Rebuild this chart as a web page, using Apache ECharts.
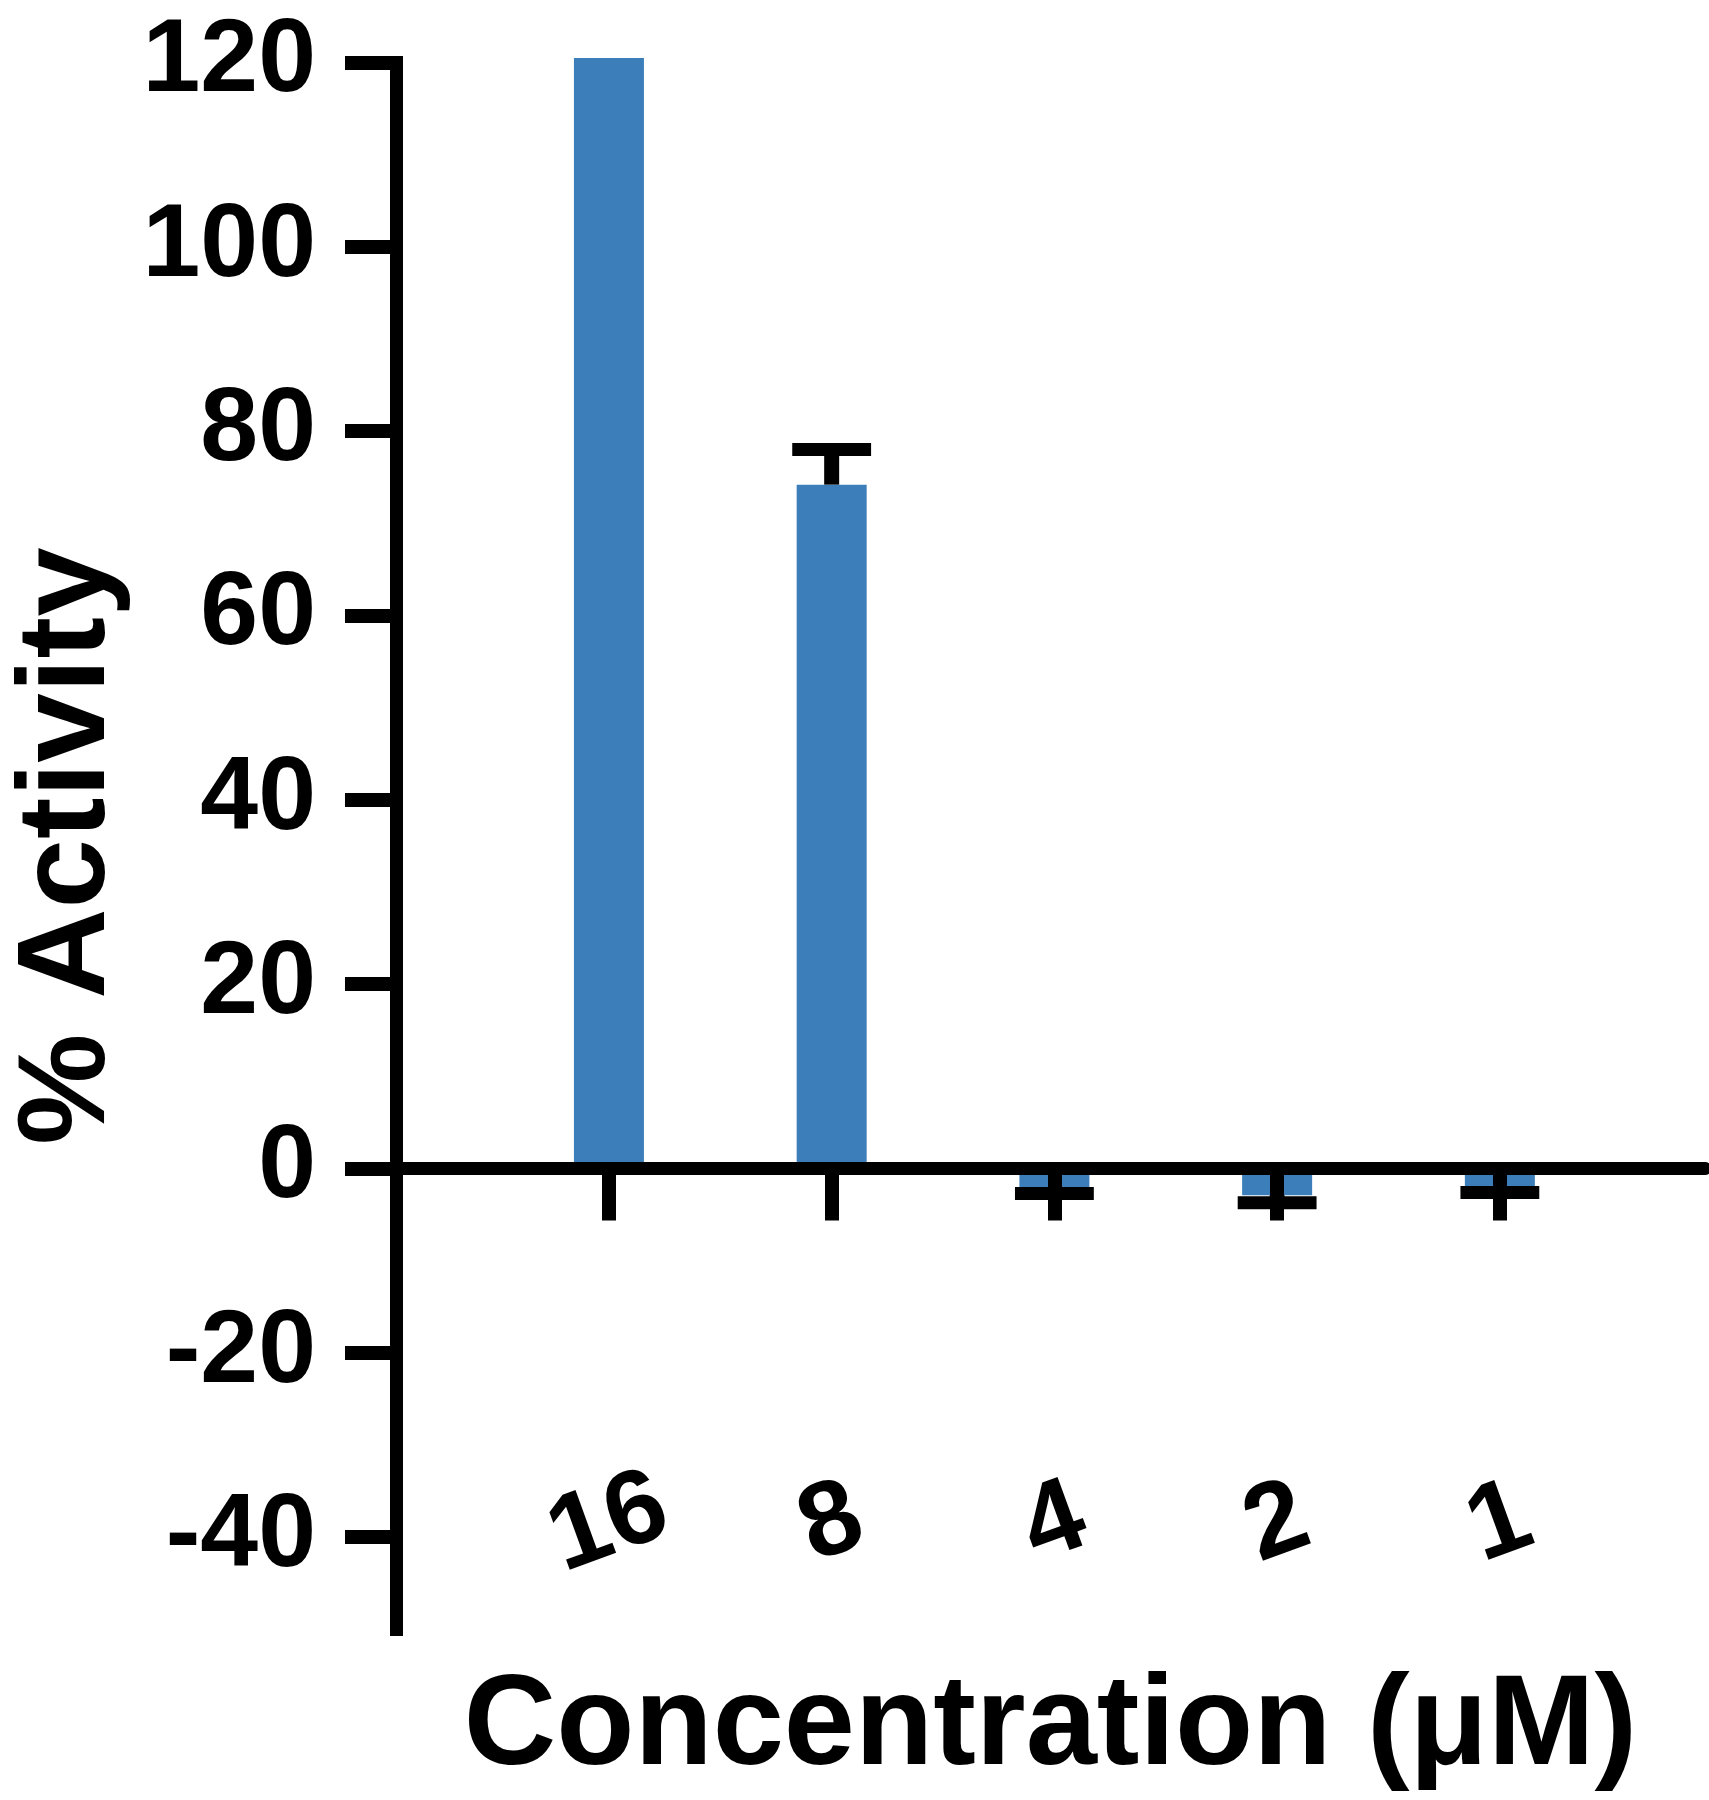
<!DOCTYPE html>
<html>
<head>
<meta charset="utf-8">
<script src="https://cdn.jsdelivr.net/npm/echarts@6/dist/echarts.min.js"></script>
<style>
html,body{margin:0;padding:0;background:#fff;}
#chart{width:1709px;height:1800px;}
</style>
</head>
<body>
<div id="chart"></div>
<script>
// Data
const categories = ['16', '8', '4', '2', '1'];
const activity = [120.5, 74.2, -2.1, -2.9, -2.1];
const errorEnd = [null, 78.0, -2.7, -3.7, -2.6];
const yTicks = [-40, -20, 0, 20, 40, 60, 80, 100, 120];
const xPositions = categories.map((c, i) => i);

const FONT = 'Liberation Sans, Arial, sans-serif';
const BLUE = '#3B7EBA';

const barData = categories.map((c, i) => [xPositions[i], activity[i]]);
const errData = [];
categories.forEach((c, i) => {
  if (errorEnd[i] !== null) errData.push([xPositions[i], activity[i], errorEnd[i]]);
});

const chart = echarts.init(document.getElementById('chart'), null, {renderer: 'canvas'});
chart.setOption({
  animation: false,
  backgroundColor: '#fff',
  grid: {left: 396, right: 4, top: 62.5, bottom: 170.6, containLabel: false, outerBoundsMode: 'none'},
  xAxis: {
    type: 'value',
    min: -0.956,
    max: 4.921,
    z: 10,
    axisLine: {show: true, onZero: true, lineStyle: {color: '#000', width: 13}},
    axisTick: {show: true, customValues: xPositions, length: 52, lineStyle: {color: '#000', width: 14}},
    axisLabel: {
      show: true,
      customValues: xPositions,
      formatter: v => categories[Math.round(v)],
      rotate: 20,
      align: 'center',
      verticalAlign: 'middle',
      margin: -105,
      fontSize: 106,
      fontWeight: 'bold',
      fontFamily: FONT,
      color: '#000'
    },
    splitLine: {show: false},
    name: 'Concentration (μM)',
    nameLocation: 'middle',
    nameGap: 35,
    nameTextStyle: {fontSize: 128, fontWeight: 'bold', fontFamily: FONT, color: '#000'}
  },
  yAxis: {
    type: 'value',
    min: -50,
    max: 120,
    z: 10,
    axisLine: {show: true, onZero: false, lineStyle: {color: '#000', width: 13, cap: 'square'}},
    axisTick: {show: true, customValues: yTicks, length: 51, lineStyle: {color: '#000', width: 14}},
    axisLabel: {
      show: true,
      customValues: yTicks,
      margin: 80,
      fontSize: 104,
      fontWeight: 'bold',
      fontFamily: FONT,
      color: '#000'
    },
    splitLine: {show: false},
    name: '% Activity',
    nameLocation: 'middle',
    nameGap: 261,
    nameTextStyle: {fontSize: 125, fontWeight: 'bold', fontFamily: FONT, color: '#000'}
  },
  series: [
    {
      type: 'bar',
      data: barData,
      barWidth: 70,
      clip: false,
      itemStyle: {color: BLUE},
      z: 2
    },
    {
      type: 'custom',
      data: errData,
      clip: false,
      z: 5,
      encode: {x: 0, y: [1, 2]},
      renderItem: function (params, api) {
        const x = api.value(0);
        const mean = api.value(1);
        const end = api.value(2);
        const p0 = api.coord([x, mean]);
        const p1 = api.coord([x, end]);
        const half = api.size([1, 0])[0] * 0.177;
        return {
          type: 'group',
          children: [
            {type: 'line', shape: {x1: p0[0], y1: p0[1], x2: p1[0], y2: p1[1]},
             style: {stroke: '#000', lineWidth: 15}},
            {type: 'line', shape: {x1: p1[0] - half, y1: p1[1], x2: p1[0] + half, y2: p1[1]},
             style: {stroke: '#000', lineWidth: 13}}
          ]
        };
      }
    }
  ]
});
</script>
</body>
</html>
